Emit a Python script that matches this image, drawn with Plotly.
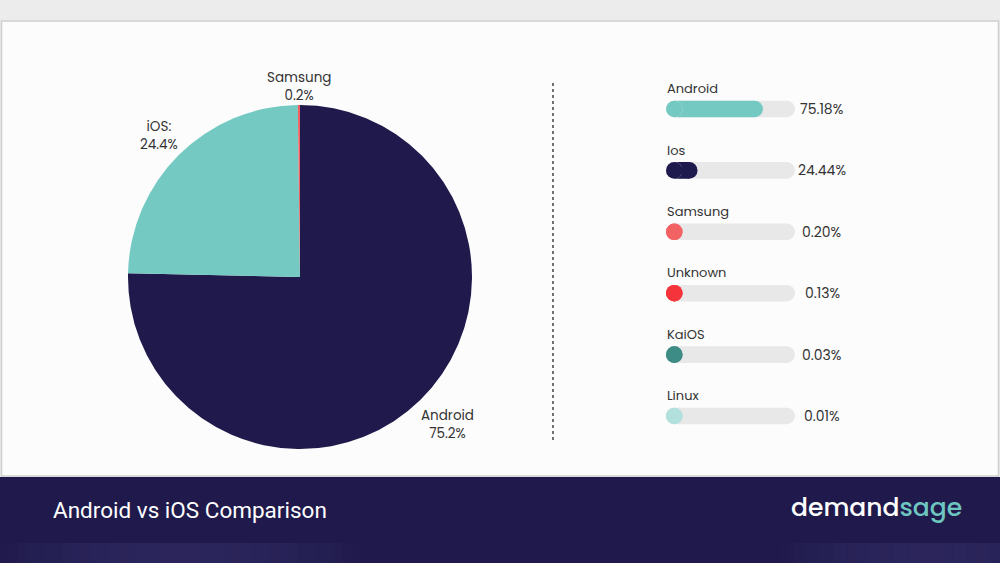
import math
import plotly.graph_objects as go

# ---- data ----
pie_labels = ["Android", "iOS", "Samsung"]
pie_values = [75.2, 24.4, 0.2]
pie_text = ["Android<br>75.2%", "iOS:<br>24.4%", "Samsung<br>0.2%"]
pie_colors = ["#1f1a4b", "#74c9c3", "#f06060"]

bar_labels = ["Android", "Ios", "Samsung", "Unknown", "KaiOS", "Linux"]
bar_values = [75.18, 24.44, 0.20, 0.13, 0.03, 0.01]
bar_text = ["75.18%", "24.44%", "0.20%", "0.13%", "0.03%", "0.01%"]
bar_colors = ["#74c9c3", "#1f1a4e", "#f26262", "#f5333a", "#3e8c86", "#b2e0dd"]
track_max = 100

W, H = 1000, 563
def py(ypx):
    return 1 - ypx / H

NAVY = "#1f1a4b"
FONT = "Poppins, Lato, 'Noto Sans', sans-serif"
TRACK = "#e8e8e8"

# pie geometry (pixels)
PCX, PCY, PR = 300, 277, 172

fig = go.Figure()

fig.add_trace(go.Pie(
    labels=pie_labels, values=pie_values,
    textinfo="none",
    marker=dict(colors=pie_colors, line=dict(width=0)),
    sort=False, direction="clockwise", rotation=0,
    domain=dict(x=[(PCX - PR) / W, (PCX + PR) / W], y=[py(PCY + PR), py(PCY - PR)]),
    showlegend=False, hoverinfo="label+value",
))

annotations = []
# pie labels placed at the mid-angle of each slice, just outside the rim
total = sum(pie_values)
cum = 0.0
for v, t in zip(pie_values, pie_text):
    mid = (cum + v / 2) / total * 2 * math.pi
    cum += v
    s, c = math.sin(mid), math.cos(mid)
    Rx = PR - 2
    Ry = PR - 2 if c > 0 else PR + 6
    xa = "left" if s > 0.3 else ("right" if s < -0.3 else "center")
    ya = "bottom" if c > 0 else "top"
    annotations.append(dict(
        x=(PCX + Rx * s) / W, xref="paper", y=py(PCY - Ry * c), yref="paper",
        text=t, showarrow=False, xanchor=xa, yanchor=ya, align="center",
        font=dict(size=13.5, color="#333333", family=FONT),
    ))

rows = list(range(len(bar_labels)))

# capsule geometry: bar thickness in px and the matching half-width in data units
BAR_W = 0.27                      # in row units (~16.6 px)
ROW_PX = 61.4
DIAM = BAR_W * ROW_PX
TRACK_PX = 129
cap = DIAM / 2 / TRACK_PX * track_max

# track: straight part + round ends
fig.add_trace(go.Bar(
    x=[track_max - 2 * cap] * len(rows), base=[cap] * len(rows), y=rows,
    orientation="h", marker=dict(color=TRACK, line=dict(width=0)),
    width=BAR_W, xaxis="x2", yaxis="y2", showlegend=False, hoverinfo="skip",
))
fig.add_trace(go.Scatter(
    x=[cap] * len(rows) + [track_max - cap] * len(rows), y=rows + rows,
    mode="markers", marker=dict(color=TRACK, size=DIAM, line=dict(width=0)),
    xaxis="x2", yaxis="y2", showlegend=False, hoverinfo="skip",
))
# fills: straight part + round ends (a dot at least)
fig.add_trace(go.Bar(
    x=[max(v - 2 * cap, 0) for v in bar_values], base=[cap] * len(rows), y=rows,
    orientation="h", marker=dict(color=bar_colors, line=dict(width=0)),
    width=BAR_W, xaxis="x2", yaxis="y2", showlegend=False,
    customdata=list(zip(bar_labels, bar_values)),
    hovertemplate="%{customdata[0]}: %{customdata[1]}%<extra></extra>",
))
fig.add_trace(go.Scatter(
    x=[cap] * len(rows) + [max(v - cap, cap) for v in bar_values], y=rows + rows,
    mode="markers",
    marker=dict(color=bar_colors + bar_colors, size=DIAM, line=dict(width=0)),
    xaxis="x2", yaxis="y2", showlegend=False, hoverinfo="skip",
))

for i, (lab, txt) in enumerate(zip(bar_labels, bar_text)):
    annotations.append(dict(
        x=0.665, xref="paper", y=i - 0.33, yref="y2",
        text=lab, showarrow=False, xanchor="left", yanchor="middle",
        font=dict(size=13, color="#333333", family=FONT),
    ))
    annotations.append(dict(
        x=0.822, xref="paper", y=i, yref="y2",
        text=txt, showarrow=False, xanchor="center", yanchor="middle",
        font=dict(size=14, color="#333333", family=FONT),
    ))

annotations.append(dict(
    x=51 / W, xref="paper", y=py(510), yref="paper",
    text="Android vs iOS Comparison", showarrow=False,
    xanchor="left", yanchor="middle",
    font=dict(size=22.5, color="#ffffff", family="Roboto, sans-serif"),
))
annotations.append(dict(
    x=964 / W, xref="paper", y=py(507), yref="paper",
    text="demand<span style='color:#6ec6c0'>sage</span>", showarrow=False,
    xanchor="right", yanchor="middle",
    font=dict(size=25, color="#ffffff", family=FONT, weight=500),
))

shapes = [
    dict(type="rect", xref="paper", yref="paper", x0=0, x1=1, y0=py(20), y1=1,
         fillcolor="#ececec", line=dict(width=0), layer="below"),
    dict(type="rect", xref="paper", yref="paper", x0=1.5 / W, x1=998.5 / W,
         y0=py(476), y1=py(21), fillcolor="#fcfcfc",
         line=dict(color="#cfcfcf", width=1.5), layer="below"),
    dict(type="rect", xref="paper", yref="paper", x0=0, x1=1, y0=0, y1=py(477),
         fillcolor=NAVY, line=dict(width=0), layer="below"),
]
# soft lighter glow along the very bottom (left and right), built from thin slices
def glow(xa, xb, peak):
    n = 40
    for k in range(n):
        x0 = xa + (xb - xa) * k / n
        x1 = xa + (xb - xa) * (k + 1) / n
        t = (k + 0.5) / n
        op = peak * math.sin(math.pi * t) ** 0.7
        shapes.append(dict(type="rect", xref="paper", yref="paper",
                           x0=x0 / W, x1=x1 / W, y0=0, y1=py(543),
                           fillcolor="#4a4485", opacity=op,
                           line=dict(width=0), layer="below"))
glow(0, 360, 0.28)
glow(780, 1080, 0.28)

shapes.append(dict(type="line", xref="paper", yref="paper", x0=553 / W, x1=553 / W,
                   y0=py(440), y1=py(82),
                   line=dict(color="#444444", width=1.5, dash="dot")))

fig.update_layout(
    width=W, height=H,
    margin=dict(l=0, r=0, t=0, b=0),
    paper_bgcolor="#ececec", plot_bgcolor="rgba(0,0,0,0)",
    barmode="overlay",
    xaxis2=dict(domain=[0.666, 0.795], range=[0, track_max], visible=False,
                fixedrange=True, anchor="y2"),
    yaxis2=dict(domain=[py(446.7), py(78.3)], range=[5.5, -0.5], visible=False,
                fixedrange=True, anchor="x2"),
    annotations=annotations, shapes=shapes,
    font=dict(family=FONT),
)

fig.write_html("out.html")
